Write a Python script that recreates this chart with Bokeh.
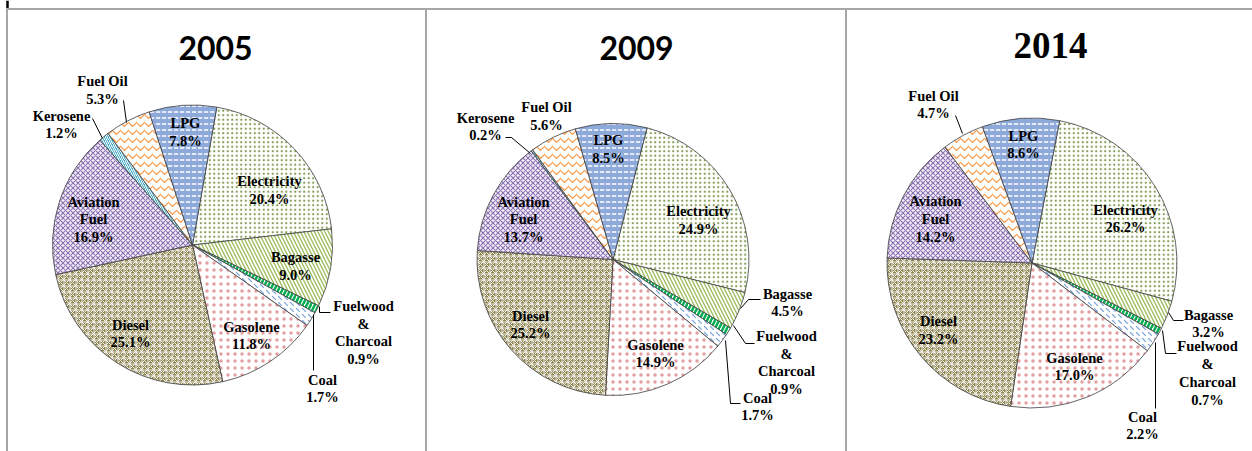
import numpy as np
from bokeh.plotting import figure
from bokeh.models import Range1d, ColumnDataSource
from bokeh.core.properties import value
from bokeh.embed import file_html
from bokeh.resources import INLINE

# ---------------- data ----------------
categories = ["Electricity", "Bagasse", "Fuelwood & Charcoal", "Coal", "Gasolene",
              "Diesel", "Aviation Fuel", "Kerosene", "Fuel Oil", "LPG"]
share_2005 = [20.4, 9.0, 0.9, 1.7, 11.8, 25.1, 16.9, 1.2, 5.3, 7.8]
share_2009 = [24.9, 4.5, 0.9, 1.7, 14.9, 25.2, 13.7, 0.2, 5.6, 8.5]
share_2014 = [26.2, 3.2, 0.7, 2.2, 17.0, 23.2, 14.2, 0.0, 4.7, 8.6]
years = ["2005", "2009", "2014"]
shares = {"2005": share_2005, "2009": share_2009, "2014": share_2014}

# ---------------- styles ----------------
display_names = {"Fuelwood & Charcoal": "Fuelwood\n&\nCharcoal", "Aviation Fuel": "Aviation\nFuel"}
slice_style = {
    "Electricity":         dict(fill="white",   pat="dot",                 hc="#7f9d52", hs=4.5, hw=1.0),
    "Bagasse":             dict(fill="white",   pat="left_diagonal_line",  hc="#9bbb59", hs=7.0, hw=1.3),
    "Fuelwood & Charcoal": dict(fill="white",   pat="right_diagonal_line", hc="#00b050", hs=8.0, hw=2.5),
    "Coal":                dict(fill="white",   pat="left_diagonal_dash",  hc="#7aa6dc", hs=6.0, hw=1.2),
    "Gasolene":            dict(fill="white",   pat="dot",                 hc="#e39ea1", hs=7.0, hw=1.0),
    "Diesel":              dict(fill="#8f8652", pat="criss_cross",         hc="white",   hs=6.0, hw=0.9),
    "Aviation Fuel":       dict(fill="#f4f0f8", pat="diagonal_cross",      hc="#8c74b4", hs=5.0, hw=1.1),
    "Kerosene":            dict(fill="#4bacc6", pat="right_diagonal_line", hc="white",   hs=4.0, hw=1.0),
    "Fuel Oil":            dict(fill="white",   pat="horizontal_wave",     hc="#f79646", hs=8.0, hw=1.2),
    "LPG":                 dict(fill="#8eaadb", pat="horizontal_dash",     hc="white",   hs=6.0, hw=1.5),
}

# pie layout in page pixel coordinates (x right, y down)
pie_layout = {
    "2005": dict(cx=192, cy=244.5, r=140, rot=10.0, title_x=215, title_y=47,
                 title_font="Lato", title_size="32px"),
    "2009": dict(cx=612.5, cy=259, r=136, rot=14.5, title_x=636, title_y=47,
                 title_font="Lato", title_size="32px"),
    "2014": dict(cx=1031.5, cy=262.5, r=145, rot=11.0, title_x=1050, title_y=45,
                 title_font="Liberation Serif", title_size="37px"),
}
label_pos = {
    "2005": {"Fuel Oil": (102, 89.5), "Kerosene": (61, 124), "LPG": (185, 131.5),
             "Electricity": (269, 189.5), "Aviation Fuel": (93, 219), "Bagasse": (295, 265.5),
             "Fuelwood & Charcoal": (363, 332), "Coal": (322, 388), "Diesel": (130, 333),
             "Gasolene": (251, 335)},
    "2009": {"Kerosene": (485, 126), "Fuel Oil": (546, 115.5), "LPG": (608, 148.5),
             "Electricity": (698, 219.5), "Aviation Fuel": (523, 219), "Diesel": (530, 324),
             "Gasolene": (655, 353), "Bagasse": (787, 302), "Fuelwood & Charcoal": (786, 362),
             "Coal": (757, 406)},
    "2014": {"Fuel Oil": (933, 104), "LPG": (1023, 144), "Electricity": (1125, 218),
             "Aviation Fuel": (935, 218.5), "Diesel": (938, 329.5), "Gasolene": (1074, 366),
             "Bagasse": (1208, 323), "Fuelwood & Charcoal": (1207, 372.5), "Coal": (1142, 425)},
}
leaders = {
    "2005": [[(123, 100), (126, 122)], [(92, 118), (102, 138)],
             [(319, 306), (319, 312), (330, 312)], [(313, 314), (313, 370)]],
    "2009": [[(505, 137), (511, 137), (530, 153)], [(740, 308), (748, 299), (760, 299)],
             [(733, 325), (745, 343), (754, 343)], [(725, 340), (730, 403), (740, 403)]],
    "2014": [[(955, 115), (962, 133)], [(1168, 312), (1173, 320), (1183, 320)],
             [(1162, 330), (1165, 353), (1176, 353)], [(1155, 342), (1155, 408)]],
}

PAGE_W, PAGE_H = 1252, 451


def Y(y):
    return PAGE_H - y


p = figure(width=PAGE_W, height=PAGE_H, x_range=Range1d(0, PAGE_W), y_range=Range1d(0, PAGE_H),
           output_backend="svg", toolbar_location=None, min_border=0,
           outline_line_color=None, background_fill_color="white")
p.axis.visible = False
p.grid.visible = False

# panel borders
p.segment(x0=[6, 6.5, 425.5, 845.5], y0=[Y(8.5)] * 4,
          x1=[1252, 6.5, 425.5, 845.5], y1=[Y(8.5), Y(451), Y(451), Y(451)],
          line_color="#a6a6a6", line_width=2)
p.segment(x0=[7], y0=[Y(0)], x1=[7], y1=[Y(7.5)], line_color="black", line_width=2.5)

for yr in years:
    lay = pie_layout[yr]
    vals = np.array(shares[yr], dtype=float)
    keep = vals > 0
    cats = [c for c, k in zip(categories, keep) if k]
    v = vals[keep]
    frac = v / v.sum()
    cum = np.concatenate([[0.0], np.cumsum(frac)]) * 360.0
    th0 = lay["rot"] + cum[:-1]
    th1 = lay["rot"] + cum[1:]
    src = ColumnDataSource(dict(
        x=[lay["cx"]] * len(cats), y=[Y(lay["cy"])] * len(cats),
        start=np.radians(90 - th1), end=np.radians(90 - th0),
        fill=[slice_style[c]["fill"] for c in cats],
        pat=[slice_style[c]["pat"] for c in cats],
        hc=[slice_style[c]["hc"] for c in cats],
        hs=[slice_style[c]["hs"] for c in cats],
        hw=[slice_style[c]["hw"] for c in cats],
    ))
    p.wedge(x="x", y="y", radius=lay["r"], start_angle="start", end_angle="end",
            source=src, fill_color="fill", hatch_pattern="pat", hatch_color="hc",
            hatch_scale="hs", hatch_weight="hw", line_color="#3c3c3c", line_width=0.8)

    # labels
    lx, ly, lt = [], [], []
    for c, val in zip(categories, shares[yr]):
        if c in label_pos[yr]:
            x, y = label_pos[yr][c]
            lx.append(x)
            ly.append(Y(y))
            lt.append(f"{display_names.get(c, c)}\n{val:.1f}%")
    p.text(x=lx, y=ly, text=lt, text_font=value("Liberation Serif"), text_font_style="bold",
           text_font_size="14.5px", text_align="center", text_baseline="middle",
           text_line_height=1.12, text_color="black")

    # leader lines
    xs = [[pt[0] for pt in ln] for ln in leaders[yr]]
    ys = [[Y(pt[1]) for pt in ln] for ln in leaders[yr]]
    p.multi_line(xs=xs, ys=ys, line_color="black", line_width=1)

    # title
    p.text(x=[lay["title_x"]], y=[Y(lay["title_y"])], text=[yr],
           text_font=value(lay["title_font"]), text_font_style="bold",
           text_font_size=lay["title_size"], text_align="center", text_baseline="middle",
           text_color="black")

open("out.html", "w").write(file_html(p, INLINE))
